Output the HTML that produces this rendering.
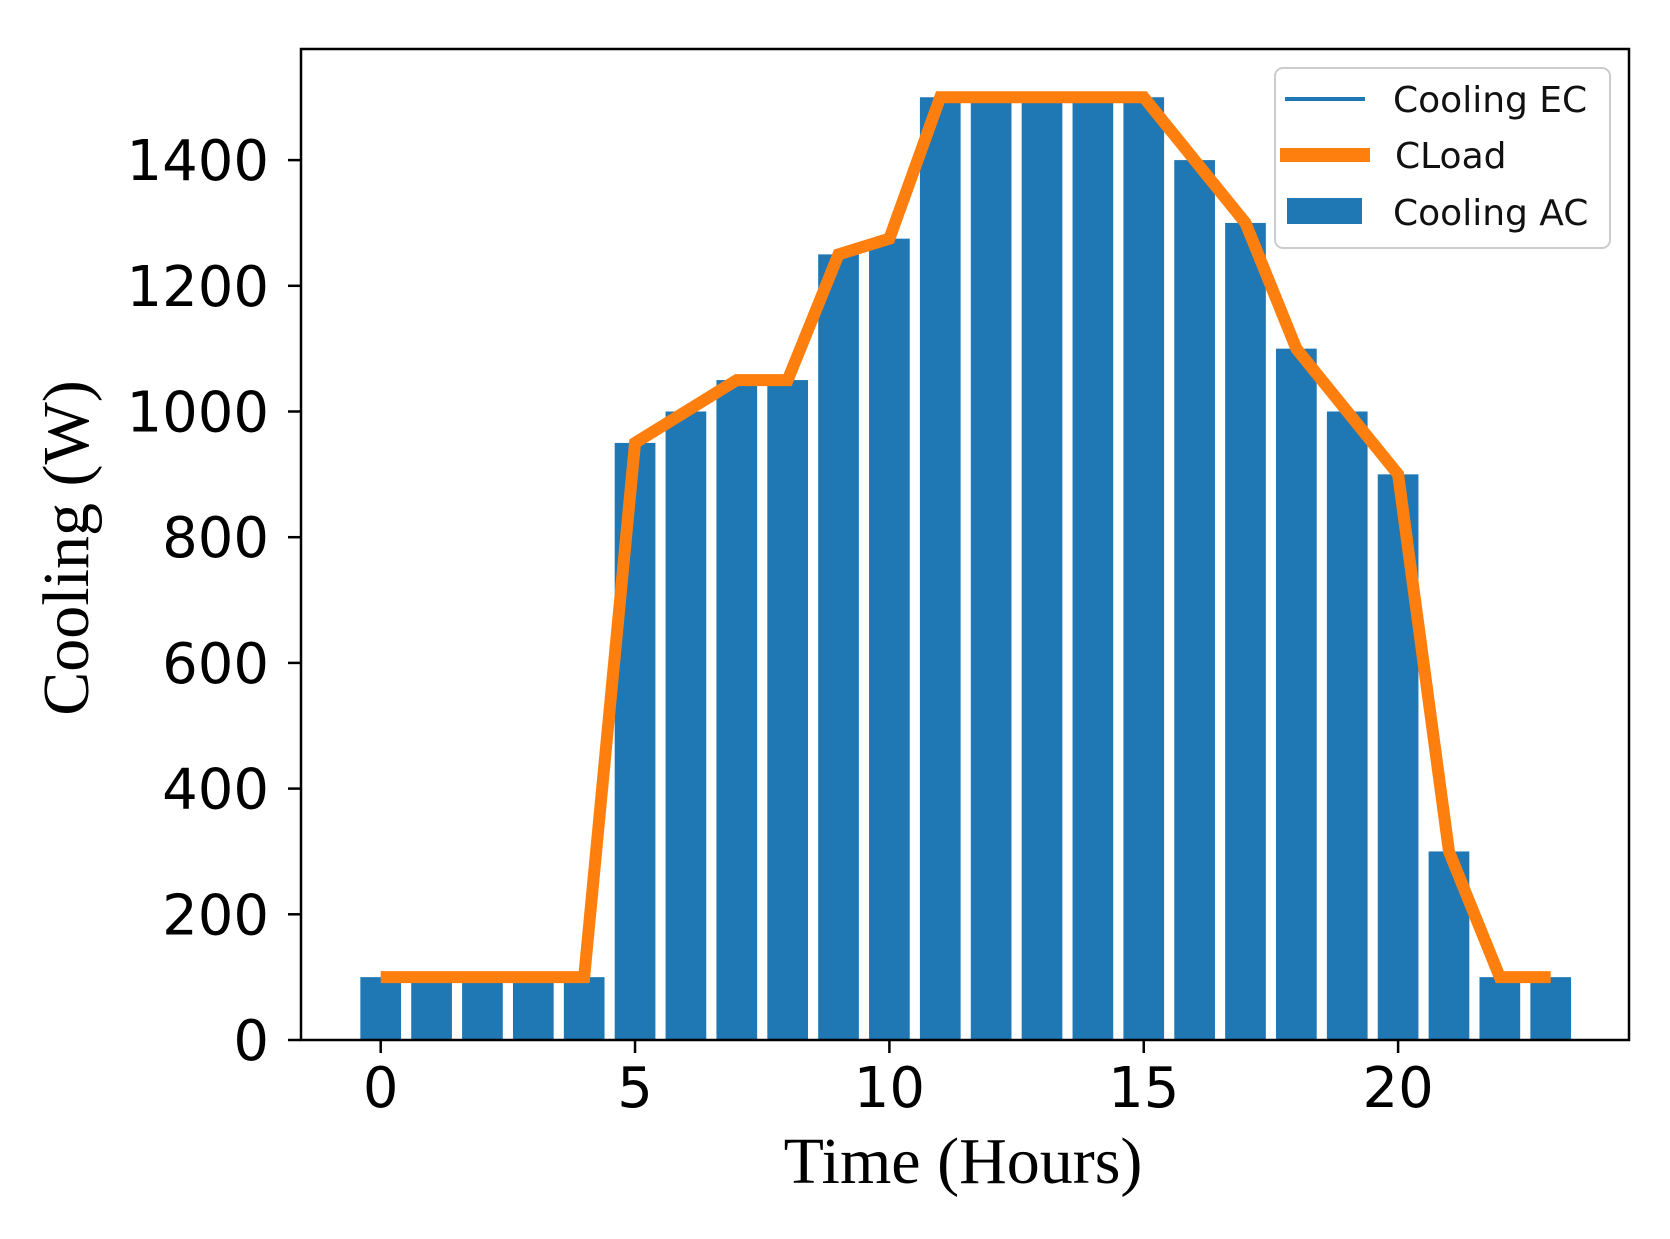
<!DOCTYPE html>
<html><head><meta charset="utf-8"><style>
html,body{margin:0;padding:0;background:#fff;}
svg{display:block;}
</style></head><body>
<svg id="chart" width="1670" height="1239" viewBox="0 0 1670 1239" xmlns="http://www.w3.org/2000/svg">
<rect width="1670" height="1239" fill="#fff"/>
<g id="bars"></g>
<g id="line"></g>
<g id="axes"></g>
<rect x="301" y="49" width="1328" height="991" fill="none" stroke="#000" stroke-width="2.5"/>
<text x="963" y="1183" font-family="'Liberation Serif',serif" font-size="66" text-anchor="middle">Time (Hours)</text>
<text transform="translate(88,548) rotate(-90)" font-family="'Liberation Serif',serif" font-size="66" text-anchor="middle">Cooling (W)</text>
<g>
<rect x="1275" y="68" width="335" height="180" rx="8" fill="#fff" fill-opacity="0.8" stroke="#ccc" stroke-width="2"/>
<line x1="1285" y1="99" x2="1365" y2="99" stroke="#1f77b4" stroke-width="4"/>
<text x="1393" y="112" font-family="'DejaVu Sans',sans-serif" font-size="36" fill="#111">Cooling EC</text>
<line x1="1280" y1="155" x2="1370" y2="155" stroke="#ff7f0e" stroke-width="14"/>
<text x="1395" y="168" font-family="'DejaVu Sans',sans-serif" font-size="36" fill="#111">CLoad</text>
<rect x="1287" y="198" width="75" height="26" fill="#1f77b4"/>
<text x="1393" y="225" font-family="'DejaVu Sans',sans-serif" font-size="36" fill="#111">Cooling AC</text>
</g>
</svg>
<script>
const hours = [0,1,2,3,4,5,6,7,8,9,10,11,12,13,14,15,16,17,18,19,20,21,22,23];
const coolingAC = [100,100,100,100,100,950,1000,1050,1050,1250,1275,1500,1500,1500,1500,1500,1400,1300,1100,1000,900,300,100,100];
const cLoad = [100,100,100,100,100,950,1000,1050,1050,1250,1275,1500,1500,1500,1500,1500,1400,1300,1100,1000,900,300,100,100];
const xTicks = [0,5,10,15,20];
const yTicks = [0,200,400,600,800,1000,1200,1400];

const NS = 'http://www.w3.org/2000/svg';
function xs(v){ return 380.7 + v * 50.87; }
function ys(v){ return 1040 - v * 0.6285; }
function mk(tag, attrs){ const e = document.createElementNS(NS, tag); for (const k in attrs) e.setAttribute(k, attrs[k]); return e; }

const bars = document.getElementById('bars');
const bw = 0.8 * 50.87;
hours.forEach((h, i) => {
  const r = mk('rect', {x: xs(h) - bw/2, y: ys(coolingAC[i]), width: bw, height: ys(0) - ys(coolingAC[i]), fill: '#1f77b4'});
  
  
  bars.appendChild(r);
});

const lineG = document.getElementById('line');
const pts = hours.map((h, i) => xs(h) + ',' + ys(cLoad[i])).join(' ');
const pl = mk('polyline', {points: pts, fill: 'none', stroke: '#ff7f0e', 'stroke-width': 12, 'stroke-linejoin': 'miter', 'stroke-linecap': 'butt'});


lineG.appendChild(pl);

const axes = document.getElementById('axes');
xTicks.forEach(t => {
  const l = mk('line', {x1: xs(t), y1: 1040, x2: xs(t), y2: 1053, stroke: '#000', 'stroke-width': 2.5});
  
  
  axes.appendChild(l);
  const tx = mk('text', {x: xs(t), y: 1107, 'font-family': "'DejaVu Sans',sans-serif", 'font-size': 56, 'text-anchor': 'middle', fill: '#000'});
  tx.textContent = t;
  
  
  axes.appendChild(tx);
});
yTicks.forEach(t => {
  const l = mk('line', {x1: 288, y1: ys(t), x2: 301, y2: ys(t), stroke: '#000', 'stroke-width': 2.5});
  
  
  axes.appendChild(l);
  const tx = mk('text', {x: 269, y: ys(t) + 20, 'font-family': "'DejaVu Sans',sans-serif", 'font-size': 56, 'text-anchor': 'end', fill: '#000'});
  tx.textContent = t;
  
  
  axes.appendChild(tx);
});
</script>
</body></html>
